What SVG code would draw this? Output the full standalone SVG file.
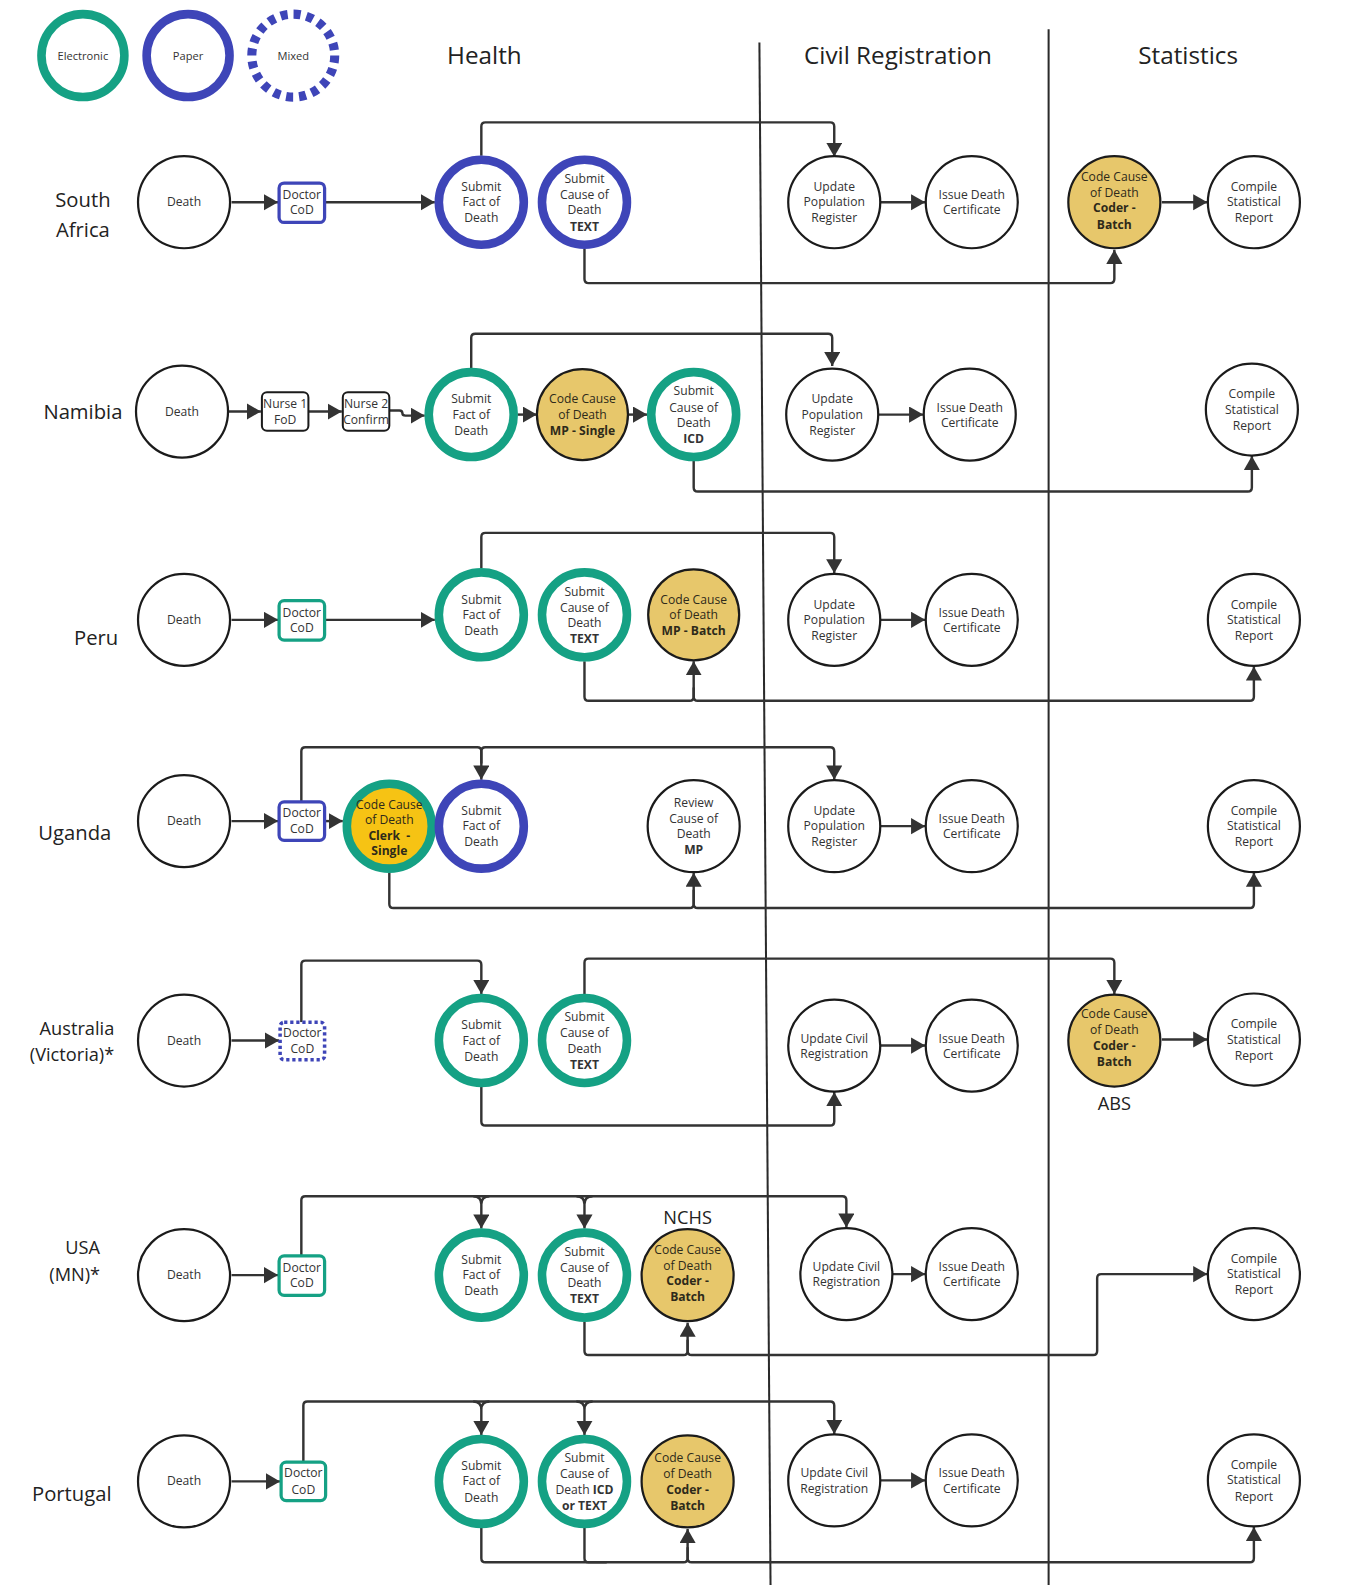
<svg xmlns="http://www.w3.org/2000/svg" width="1354" height="1585" viewBox="0 0 1354 1585">
  <defs>
    <style>
      text { font-family: "Open Sans", "Noto Sans", "Liberation Sans", sans-serif; fill: #333; text-anchor: middle; }
      .lbl { font-size: 12px; }
      .lg { font-size: 11px; }
      .b { font-weight: 700; }
      .country { font-size: 20px; fill: #222; }
      .country.sm { font-size: 18px; text-anchor: end; }
      .head { font-size: 24px; fill: #222; }
      .tag { font-size: 18px; fill: #222; }
      .plain { fill: #fff; stroke: #1b1b1b; stroke-width: 2.2; }
      .elec { fill: #fff; stroke: #15a184; stroke-width: 8.5; }
      .paper { fill: #fff; stroke: #3e45b8; stroke-width: 8.5; }
      .gold { fill: #e7c76b; stroke: #1b1b1b; stroke-width: 2.2; }
      .clerk { fill: #f6c314; stroke: #15a184; stroke-width: 8.5; }
      .gt { fill: #2e2a1a; }
      .box { fill: #fff; stroke: #1b1b1b; stroke-width: 2; }
      .boxE { fill: #fff; stroke: #15a184; stroke-width: 3.2; }
      .boxP { fill: #fff; stroke: #3e45b8; stroke-width: 3.2; }
      .boxM { fill: #fff; stroke: #3e45b8; stroke-width: 3.5; stroke-dasharray: 3.2 2.8; }
      .c { fill: none; stroke: #333; stroke-width: 2.4; stroke-linejoin: round; marker-end: url(#ah); }
      .j { fill: none; stroke: #333; stroke-width: 2.4; stroke-linejoin: round; }
      .lane { stroke: #2a2a2a; stroke-width: 2; }
    </style>
    <marker id="ah" markerUnits="userSpaceOnUse" markerWidth="18" markerHeight="18" refX="14" refY="8" orient="auto">
      <path d="M0,0 L14,8 L0,16 Z" fill="#333"/>
    </marker>
  </defs>

  <rect width="1354" height="1585" fill="#fff"/>

  <g transform="scale(1.0112)">
    <!-- legend -->
    <g id="legend">
      <circle cx="82" cy="55" r="41" class="elec" stroke-width="9"/>
      <text class="lg" x="82" y="59">Electronic</text>
      <circle cx="186" cy="55" r="41" class="paper" stroke-width="9"/>
      <text class="lg" x="186" y="59">Paper</text>
      <circle cx="290" cy="55" r="41" fill="#fff" stroke="#3e45b8" stroke-width="9" stroke-dasharray="7 5.88"/>
      <text class="lg" x="290" y="59">Mixed</text>
    </g>

    <!-- lane headers and dividers -->
    <g id="lanes">
      <text class="head" x="479" y="63">Health</text>
      <text class="head" x="888" y="63">Civil Registration</text>
      <text class="head" x="1175" y="63">Statistics</text>
      <line class="lane" x1="751" y1="42" x2="762" y2="1568"/>
      <line class="lane" x1="1037" y1="29" x2="1037" y2="1568"/>
    </g>

    <!-- connectors -->
    <g id="connectors">
      <!-- South Africa -->
      <path class="c" d="M229,200 H275"/>
      <path class="c" d="M322,200 H430"/>
      <path class="c" d="M476,154 V125 Q476,121 480,121 H821 Q825,121 825,125 V155"/>
      <path class="c" d="M871,200 H915"/>
      <path class="c" d="M1149,200 H1194"/>
      <path class="c" d="M578,246 V276 Q578,280 582,280 H1098 Q1102,280 1102,276 V247"/>
      <!-- Namibia -->
      <path class="c" d="M226,407 H258"/>
      <path class="c" d="M305,407 H338"/>
      <path class="c" d="M385,406 H395 Q398,406 398,409 Q398,411 401,411 H420"/>
      <path class="c" d="M512,410 H531"/>
      <path class="c" d="M622,410 H640"/>
      <path class="c" d="M466,364 V334 Q466,330 470,330 H819 Q823,330 823,334 V362"/>
      <path class="c" d="M869,410 H913"/>
      <path class="c" d="M686,456 V482 Q686,486 690,486 H1234 Q1238,486 1238,482 V451"/>
      <!-- Peru -->
      <path class="c" d="M229,613 H275"/>
      <path class="c" d="M322,613 H430"/>
      <path class="c" d="M476,562 V531 Q476,527 480,527 H821 Q825,527 825,531 V567"/>
      <path class="c" d="M871,613 H915"/>
      <path class="c" d="M578,654 V689 Q578,693 582,693 H682 Q686,693 686,689 V654"/>
      <path class="c" d="M686,680 V689 Q686,693 690,693 H1236 Q1240,693 1240,689 V659"/>
      <!-- Uganda -->
      <path class="c" d="M229,812 H275"/>
      <path class="c" d="M322,812 H339"/>
      <path class="c" d="M298,793 V743 Q298,739 302,739 H472 Q476,739 476,743 V771"/>
      <path class="c" d="M476,755 V743 Q476,739 480,739 H821 Q825,739 825,743 V771"/>
      <path class="c" d="M871,817 H915"/>
      <path class="c" d="M385,863 V894 Q385,898 389,898 H682 Q686,898 686,894 V863"/>
      <path class="c" d="M686,880 V894 Q686,898 690,898 H1236 Q1240,898 1240,894 V863"/>
      <!-- Australia (Victoria) -->
      <path class="c" d="M229,1029 H276"/>
      <path class="c" d="M298,1011 V954 Q298,950 302,950 H472 Q476,950 476,954 V983"/>
      <path class="c" d="M578,983 V952 Q578,948 582,948 H1098 Q1102,948 1102,952 V983"/>
      <path class="c" d="M476,1075 V1109 Q476,1113 480,1113 H821 Q825,1113 825,1109 V1080"/>
      <path class="c" d="M871,1034 H915"/>
      <path class="c" d="M1149,1028 H1194"/>
      <!-- USA (MN) -->
      <path class="c" d="M229,1261 H275"/>
      <path class="c" d="M298,1242 V1187 Q298,1183 302,1183 H833 Q837,1183 837,1187 V1214"/>
      <path class="c" d="M484,1183 Q476,1183 476,1191 M468,1183 Q476,1183 476,1191 V1215"/>
      <path class="c" d="M586,1183 Q578,1183 578,1191 M570,1183 Q578,1183 578,1191 V1215"/>
      <path class="c" d="M883,1260 H915"/>
      <path class="c" d="M578,1307 V1336 Q578,1340 582,1340 H676 Q680,1340 680,1336 V1308"/>
      <path class="c" d="M680,1325 V1336 Q680,1340 684,1340 H1081 Q1085,1340 1085,1336 V1264 Q1085,1260 1089,1260 H1194"/>
      <!-- Portugal -->
      <path class="c" d="M229,1465 H277"/>
      <path class="c" d="M300,1446 V1390 Q300,1386 304,1386 H821 Q825,1386 825,1390 V1418"/>
      <path class="c" d="M484,1386 Q476,1386 476,1394 M468,1386 Q476,1386 476,1394 V1419"/>
      <path class="c" d="M586,1386 Q578,1386 578,1394 M570,1386 Q578,1386 578,1394 V1419"/>
      <path class="c" d="M871,1464 H915"/>
      <path class="c" d="M476,1511 V1541 Q476,1545 480,1545 H676 Q680,1545 680,1541 V1512"/>
      <path class="j" d="M578,1511 V1541 Q578,1545 582,1545 H600"/>
      <path class="c" d="M680,1530 V1541 Q680,1545 684,1545 H1236 Q1240,1545 1240,1541 V1510"/>
    </g>

    <!-- South Africa -->
    <g id="sa-label"><text class="country" x="82" y="205">South</text><text class="country" x="82" y="234">Africa</text></g>
    <g id="sa-death"><circle cx="182" cy="200" r="45.5" class="plain"/><text class="lbl" x="182" y="204">Death</text></g>
    <g id="sa-doctor"><rect x="276" y="181" width="45" height="39" rx="5" class="boxP"/><text class="lbl" x="298.5" y="197">Doctor</text><text class="lbl" x="298.5" y="212">CoD</text></g>
    <g id="sa-fact"><circle cx="476" cy="200" r="42" class="paper"/><text class="lbl" x="476" y="189">Submit</text><text class="lbl" x="476" y="204">Fact of</text><text class="lbl" x="476" y="220">Death</text></g>
    <g id="sa-cause"><circle cx="578" cy="200" r="42" class="paper"/><text class="lbl" x="578" y="181">Submit</text><text class="lbl" x="578" y="197">Cause of</text><text class="lbl" x="578" y="212">Death</text><text class="lbl b" x="578" y="228">TEXT</text></g>
    <g id="sa-update"><circle cx="825" cy="200" r="45.5" class="plain"/><text class="lbl" x="825" y="189">Update</text><text class="lbl" x="825" y="204">Population</text><text class="lbl" x="825" y="220">Register</text></g>
    <g id="sa-issue"><circle cx="961" cy="200" r="45.5" class="plain"/><text class="lbl" x="961" y="197">Issue Death</text><text class="lbl" x="961" y="212">Certificate</text></g>
    <g id="sa-code"><circle cx="1102" cy="200" r="45.5" class="gold"/><text class="lbl gt" x="1102" y="179">Code Cause</text><text class="lbl gt" x="1102" y="195">of Death</text><text class="lbl b gt" x="1102" y="210">Coder -</text><text class="lbl b gt" x="1102" y="226">Batch</text></g>
    <g id="sa-compile"><circle cx="1240" cy="200" r="45.5" class="plain"/><text class="lbl" x="1240" y="189">Compile</text><text class="lbl" x="1240" y="204">Statistical</text><text class="lbl" x="1240" y="220">Report</text></g>

    <!-- Namibia -->
    <g id="na-label"><text class="country" x="82" y="414">Namibia</text></g>
    <g id="na-death"><circle cx="180" cy="407" r="45.5" class="plain"/><text class="lbl" x="180" y="411">Death</text></g>
    <g id="na-nurse1"><rect x="259" y="388" width="46" height="38" rx="5" class="box"/><text class="lbl" x="282" y="403">Nurse 1</text><text class="lbl" x="282" y="419">FoD</text></g>
    <g id="na-nurse2"><rect x="339" y="388" width="46" height="38" rx="5" class="box"/><text class="lbl" x="362" y="403">Nurse 2</text><text class="lbl" x="362" y="419">Confirm</text></g>
    <g id="na-fact"><circle cx="466" cy="410" r="42" class="elec"/><text class="lbl" x="466" y="399">Submit</text><text class="lbl" x="466" y="414">Fact of</text><text class="lbl" x="466" y="430">Death</text></g>
    <g id="na-code"><circle cx="576" cy="410" r="45" class="gold"/><text class="lbl gt" x="576" y="399">Code Cause</text><text class="lbl gt" x="576" y="414">of Death</text><text class="lbl b gt" x="576" y="430">MP - Single</text></g>
    <g id="na-cause"><circle cx="686" cy="410" r="42" class="elec"/><text class="lbl" x="686" y="391">Submit</text><text class="lbl" x="686" y="407">Cause of</text><text class="lbl" x="686" y="422">Death</text><text class="lbl b" x="686" y="438">ICD</text></g>
    <g id="na-update"><circle cx="823" cy="410" r="45.5" class="plain"/><text class="lbl" x="823" y="399">Update</text><text class="lbl" x="823" y="414">Population</text><text class="lbl" x="823" y="430">Register</text></g>
    <g id="na-issue"><circle cx="959" cy="410" r="45.5" class="plain"/><text class="lbl" x="959" y="407">Issue Death</text><text class="lbl" x="959" y="422">Certificate</text></g>
    <g id="na-compile"><circle cx="1238" cy="405" r="45.5" class="plain"/><text class="lbl" x="1238" y="394">Compile</text><text class="lbl" x="1238" y="409">Statistical</text><text class="lbl" x="1238" y="425">Report</text></g>

    <!-- Peru -->
    <g id="pe-label"><text class="country" x="95" y="638">Peru</text></g>
    <g id="pe-death"><circle cx="182" cy="613" r="45.5" class="plain"/><text class="lbl" x="182" y="617">Death</text></g>
    <g id="pe-doctor"><rect x="276" y="594" width="45" height="39" rx="5" class="boxE"/><text class="lbl" x="298.5" y="610">Doctor</text><text class="lbl" x="298.5" y="625">CoD</text></g>
    <g id="pe-fact"><circle cx="476" cy="608" r="42" class="elec"/><text class="lbl" x="476" y="597">Submit</text><text class="lbl" x="476" y="612">Fact of</text><text class="lbl" x="476" y="628">Death</text></g>
    <g id="pe-cause"><circle cx="578" cy="608" r="42" class="elec"/><text class="lbl" x="578" y="589">Submit</text><text class="lbl" x="578" y="605">Cause of</text><text class="lbl" x="578" y="620">Death</text><text class="lbl b" x="578" y="636">TEXT</text></g>
    <g id="pe-code"><circle cx="686" cy="608" r="45" class="gold"/><text class="lbl gt" x="686" y="597">Code Cause</text><text class="lbl gt" x="686" y="612">of Death</text><text class="lbl b gt" x="686" y="628">MP - Batch</text></g>
    <g id="pe-update"><circle cx="825" cy="613" r="45.5" class="plain"/><text class="lbl" x="825" y="602">Update</text><text class="lbl" x="825" y="617">Population</text><text class="lbl" x="825" y="633">Register</text></g>
    <g id="pe-issue"><circle cx="961" cy="613" r="45.5" class="plain"/><text class="lbl" x="961" y="610">Issue Death</text><text class="lbl" x="961" y="625">Certificate</text></g>
    <g id="pe-compile"><circle cx="1240" cy="613" r="45.5" class="plain"/><text class="lbl" x="1240" y="602">Compile</text><text class="lbl" x="1240" y="617">Statistical</text><text class="lbl" x="1240" y="633">Report</text></g>

    <!-- Uganda -->
    <g id="ug-label"><text class="country" x="74" y="831">Uganda</text></g>
    <g id="ug-death"><circle cx="182" cy="812" r="45.5" class="plain"/><text class="lbl" x="182" y="816">Death</text></g>
    <g id="ug-doctor"><rect x="276" y="793" width="45" height="38" rx="5" class="boxP"/><text class="lbl" x="298.5" y="808">Doctor</text><text class="lbl" x="298.5" y="824">CoD</text></g>
    <g id="ug-code"><circle cx="385" cy="817" r="42" class="clerk"/><text class="lbl gt" x="385" y="800">Code Cause</text><text class="lbl gt" x="385" y="815">of Death</text><text class="lbl b gt" x="385" y="831" xml:space="preserve">Clerk  -</text><text class="lbl b gt" x="385" y="846">Single</text></g>
    <g id="ug-fact"><circle cx="476" cy="817" r="42" class="paper"/><text class="lbl" x="476" y="806">Submit</text><text class="lbl" x="476" y="821">Fact of</text><text class="lbl" x="476" y="837">Death</text></g>
    <g id="ug-review"><circle cx="686" cy="817" r="45.5" class="plain"/><text class="lbl" x="686" y="798">Review</text><text class="lbl" x="686" y="814">Cause of</text><text class="lbl" x="686" y="829">Death</text><text class="lbl b" x="686" y="845">MP</text></g>
    <g id="ug-update"><circle cx="825" cy="817" r="45.5" class="plain"/><text class="lbl" x="825" y="806">Update</text><text class="lbl" x="825" y="821">Population</text><text class="lbl" x="825" y="837">Register</text></g>
    <g id="ug-issue"><circle cx="961" cy="817" r="45.5" class="plain"/><text class="lbl" x="961" y="814">Issue Death</text><text class="lbl" x="961" y="829">Certificate</text></g>
    <g id="ug-compile"><circle cx="1240" cy="817" r="45.5" class="plain"/><text class="lbl" x="1240" y="806">Compile</text><text class="lbl" x="1240" y="821">Statistical</text><text class="lbl" x="1240" y="837">Report</text></g>

    <!-- Australia (Victoria) -->
    <g id="au-label"><text class="country sm" x="113" y="1024">Australia</text><text class="country sm" x="113" y="1049">(Victoria)*</text></g>
    <g id="au-death"><circle cx="182" cy="1029" r="45.5" class="plain"/><text class="lbl" x="182" y="1033">Death</text></g>
    <g id="au-doctor"><rect x="277" y="1011" width="44" height="37" rx="4" class="boxM"/><text class="lbl" x="299" y="1026">Doctor</text><text class="lbl" x="299" y="1041">CoD</text></g>
    <g id="au-fact"><circle cx="476" cy="1029" r="42" class="elec"/><text class="lbl" x="476" y="1018">Submit</text><text class="lbl" x="476" y="1033">Fact of</text><text class="lbl" x="476" y="1049">Death</text></g>
    <g id="au-cause"><circle cx="578" cy="1029" r="42" class="elec"/><text class="lbl" x="578" y="1010">Submit</text><text class="lbl" x="578" y="1026">Cause of</text><text class="lbl" x="578" y="1041">Death</text><text class="lbl b" x="578" y="1057">TEXT</text></g>
    <g id="au-update"><circle cx="825" cy="1034" r="45.5" class="plain"/><text class="lbl" x="825" y="1031">Update Civil</text><text class="lbl" x="825" y="1046">Registration</text></g>
    <g id="au-issue"><circle cx="961" cy="1034" r="45.5" class="plain"/><text class="lbl" x="961" y="1031">Issue Death</text><text class="lbl" x="961" y="1046">Certificate</text></g>
    <g id="au-code"><circle cx="1102" cy="1029" r="45.5" class="gold"/><text class="lbl gt" x="1102" y="1007">Code Cause</text><text class="lbl gt" x="1102" y="1023">of Death</text><text class="lbl b gt" x="1102" y="1038">Coder -</text><text class="lbl b gt" x="1102" y="1054">Batch</text></g>
    <g id="au-abs"><text class="tag" x="1102" y="1098">ABS</text></g>
    <g id="au-compile"><circle cx="1240" cy="1028" r="45.5" class="plain"/><text class="lbl" x="1240" y="1017">Compile</text><text class="lbl" x="1240" y="1032">Statistical</text><text class="lbl" x="1240" y="1048">Report</text></g>

    <!-- USA (MN) -->
    <g id="us-label"><text class="country sm" x="99" y="1240">USA</text><text class="country sm" x="99" y="1267">(MN)*</text></g>
    <g id="us-death"><circle cx="182" cy="1261" r="45.5" class="plain"/><text class="lbl" x="182" y="1265">Death</text></g>
    <g id="us-doctor"><rect x="276" y="1242" width="45" height="39" rx="5" class="boxE"/><text class="lbl" x="298.5" y="1258">Doctor</text><text class="lbl" x="298.5" y="1273">CoD</text></g>
    <g id="us-fact"><circle cx="476" cy="1261" r="42" class="elec"/><text class="lbl" x="476" y="1250">Submit</text><text class="lbl" x="476" y="1265">Fact of</text><text class="lbl" x="476" y="1281">Death</text></g>
    <g id="us-cause"><circle cx="578" cy="1261" r="42" class="elec"/><text class="lbl" x="578" y="1242">Submit</text><text class="lbl" x="578" y="1258">Cause of</text><text class="lbl" x="578" y="1273">Death</text><text class="lbl b" x="578" y="1289">TEXT</text></g>
    <g id="us-nchs"><text class="tag" x="680" y="1210">NCHS</text></g>
    <g id="us-code"><circle cx="680" cy="1261" r="45.5" class="gold"/><text class="lbl gt" x="680" y="1240">Code Cause</text><text class="lbl gt" x="680" y="1256">of Death</text><text class="lbl b gt" x="680" y="1271">Coder -</text><text class="lbl b gt" x="680" y="1287">Batch</text></g>
    <g id="us-update"><circle cx="837" cy="1260" r="45.5" class="plain"/><text class="lbl" x="837" y="1257">Update Civil</text><text class="lbl" x="837" y="1272">Registration</text></g>
    <g id="us-issue"><circle cx="961" cy="1260" r="45.5" class="plain"/><text class="lbl" x="961" y="1257">Issue Death</text><text class="lbl" x="961" y="1272">Certificate</text></g>
    <g id="us-compile"><circle cx="1240" cy="1260" r="45.5" class="plain"/><text class="lbl" x="1240" y="1249">Compile</text><text class="lbl" x="1240" y="1264">Statistical</text><text class="lbl" x="1240" y="1280">Report</text></g>

    <!-- Portugal -->
    <g id="pt-label"><text class="country" x="71" y="1484">Portugal</text></g>
    <g id="pt-death"><circle cx="182" cy="1465" r="45.5" class="plain"/><text class="lbl" x="182" y="1469">Death</text></g>
    <g id="pt-doctor"><rect x="278" y="1446" width="44" height="38" rx="5" class="boxE"/><text class="lbl" x="300" y="1461">Doctor</text><text class="lbl" x="300" y="1477">CoD</text></g>
    <g id="pt-fact"><circle cx="476" cy="1465" r="42" class="elec"/><text class="lbl" x="476" y="1454">Submit</text><text class="lbl" x="476" y="1469">Fact of</text><text class="lbl" x="476" y="1485">Death</text></g>
    <g id="pt-cause"><circle cx="578" cy="1465" r="42" class="elec"/><text class="lbl" x="578" y="1446">Submit</text><text class="lbl" x="578" y="1462">Cause of</text><text class="lbl" x="578" y="1477">Death <tspan class="b">ICD</tspan></text><text class="lbl b" x="578" y="1493">or TEXT</text></g>
    <g id="pt-code"><circle cx="680" cy="1465" r="45.5" class="gold"/><text class="lbl gt" x="680" y="1446">Code Cause</text><text class="lbl gt" x="680" y="1462">of Death</text><text class="lbl b gt" x="680" y="1477">Coder -</text><text class="lbl b gt" x="680" y="1493">Batch</text></g>
    <g id="pt-update"><circle cx="825" cy="1464" r="45.5" class="plain"/><text class="lbl" x="825" y="1461">Update Civil</text><text class="lbl" x="825" y="1476">Registration</text></g>
    <g id="pt-issue"><circle cx="961" cy="1464" r="45.5" class="plain"/><text class="lbl" x="961" y="1461">Issue Death</text><text class="lbl" x="961" y="1476">Certificate</text></g>
    <g id="pt-compile"><circle cx="1240" cy="1464" r="45.5" class="plain"/><text class="lbl" x="1240" y="1453">Compile</text><text class="lbl" x="1240" y="1468">Statistical</text><text class="lbl" x="1240" y="1484">Report</text></g>
  </g>
</svg>
